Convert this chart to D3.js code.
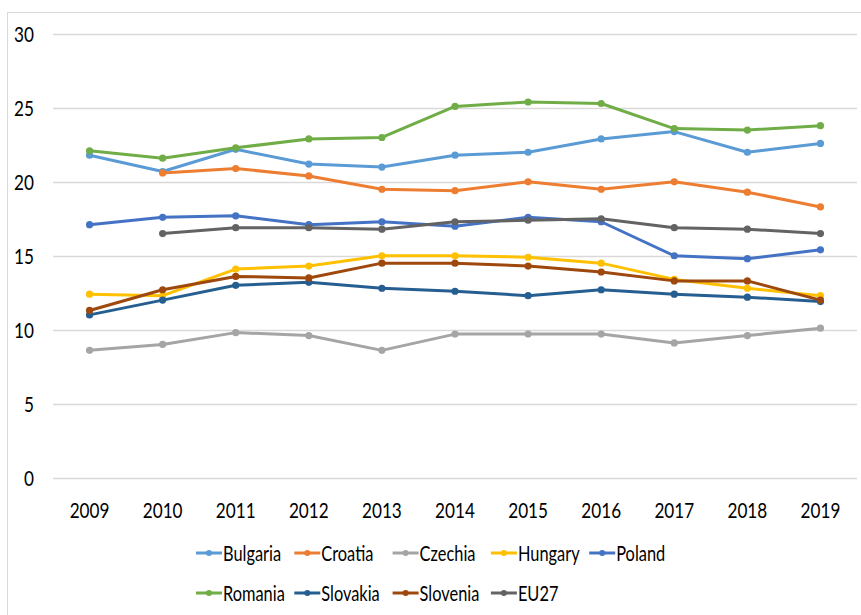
<!DOCTYPE html>
<html><head><meta charset="utf-8">
<script src="https://cdn.jsdelivr.net/npm/d3@7"></script>
<style>html,body{margin:0;padding:0;background:#fff;}svg{display:block;}</style>
</head><body>
<svg id="chart" width="861" height="615"></svg>
<script>
const years = [2009,2010,2011,2012,2013,2014,2015,2016,2017,2018,2019];
const yTicks = [0,5,10,15,20,25,30];
const seriesNames = ["Bulgaria","Croatia","Czechia","Hungary","Poland","Romania","Slovakia","Slovenia","EU27"];
const bulgaria = [21.8,20.7,22.2,21.2,21.0,21.8,22.0,22.9,23.4,22.0,22.6];
const croatia  = [null,20.6,20.9,20.4,19.5,19.4,20.0,19.5,20.0,19.3,18.3];
const czechia  = [8.6,9.0,9.8,9.6,8.6,9.7,9.7,9.7,9.1,9.6,10.1];
const hungary  = [12.4,12.3,14.1,14.3,15.0,15.0,14.9,14.5,13.4,12.8,12.3];
const poland   = [17.1,17.6,17.7,17.1,17.3,17.0,17.6,17.3,15.0,14.8,15.4];
const romania  = [22.1,21.6,22.3,22.9,23.0,25.1,25.4,25.3,23.6,23.5,23.8];
const slovakia = [11.0,12.0,13.0,13.2,12.8,12.6,12.3,12.7,12.4,12.2,11.9];
const slovenia = [11.3,12.7,13.6,13.5,14.5,14.5,14.3,13.9,13.3,13.3,12.0];
const eu27     = [null,16.5,16.9,16.9,16.8,17.3,17.4,17.5,16.9,16.8,16.5];
const seriesValues = [bulgaria,croatia,czechia,hungary,poland,romania,slovakia,slovenia,eu27];
const colors = ["#5B9BD5","#ED7D31","#A5A5A5","#FFC000","#4472C4","#70AD47","#255E91","#9E480E","#636363"];

const svg = d3.select("#chart");
const FONT = "Lato, 'Open Sans', sans-serif";
const SX = 0.78;

// outer border
svg.append("rect").attr("x",7.5).attr("y",12.5).attr("width",900).attr("height",700)
  .attr("fill","none").attr("stroke","#d9d9d9").attr("stroke-width",1);

const x = d3.scalePoint().domain(years).range([53,857]).padding(0.5);
const y = d3.scaleLinear().domain([0,30]).range([477.5,34]);

function label(g, tx, ty, txt, size, anchor){
  g.append("text").attr("transform",`translate(${tx},${ty}) scale(${SX},1)`)
   .attr("font-family",FONT).attr("font-size",size).attr("fill","#000")
   .attr("text-anchor",anchor).text(txt);
}

// gridlines
svg.append("g").selectAll("line").data(yTicks).join("line")
  .attr("x1",53).attr("x2",857).attr("y1",d=>Math.round(y(d))+0.5).attr("y2",d=>Math.round(y(d))+0.5)
  .attr("stroke","#d9d9d9").attr("stroke-width",1.3);

// y labels
const gy = svg.append("g");
yTicks.forEach(t=>label(gy,34,y(t)+8,String(t),22,"end"));
// x labels
const gx = svg.append("g");
years.forEach(yr=>label(gx,x(yr),518,String(yr),22,"middle"));

// lines
const line = d3.line().defined(d=>d.v!==null).x(d=>x(d.yr)).y(d=>y(d.v));
seriesValues.forEach((vals,i)=>{
  const data = years.map((yr,j)=>({yr, v: vals[j]}));
  const g = svg.append("g");
  g.append("path").datum(data).attr("d",line).attr("fill","none")
   .attr("stroke",colors[i]).attr("stroke-width",3).attr("stroke-linejoin","round");
  g.selectAll("circle").data(data.filter(d=>d.v!==null)).join("circle")
   .attr("cx",d=>x(d.yr)).attr("cy",d=>y(d.v)).attr("r",3.6).attr("fill",colors[i]);
});

// legend
const lg = svg.append("g");
seriesNames.forEach((name,i)=>{
  const row = i<5?0:1, col = i<5?i:i-5;
  const lx = 196 + col*98.3;
  const ly = row===0 ? 553 : 593;
  lg.append("line").attr("x1",lx).attr("x2",lx+26).attr("y1",ly).attr("y2",ly)
    .attr("stroke",colors[i]).attr("stroke-width",3);
  lg.append("circle").attr("cx",lx+13).attr("cy",ly).attr("r",3).attr("fill",colors[i]);
  label(lg,lx+27,ly+8,name,21,"start");
});
</script>
</body></html>
